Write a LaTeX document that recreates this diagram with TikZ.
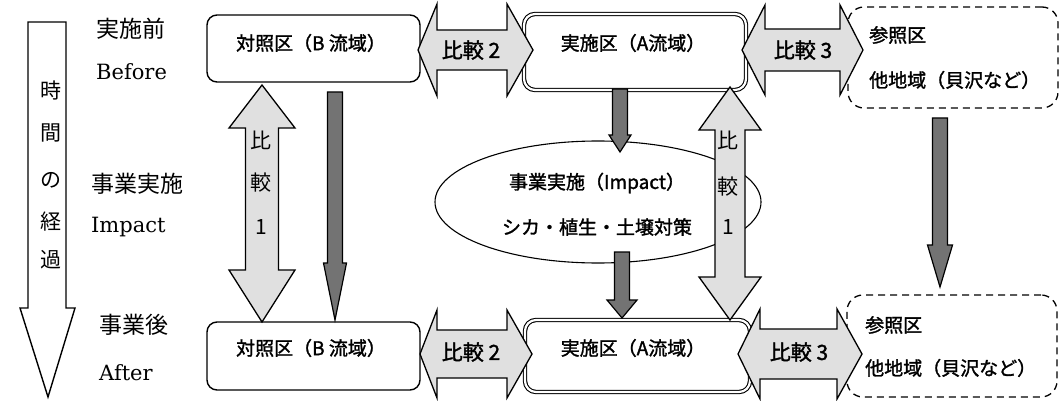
\documentclass[tikz,border=0pt]{standalone}
\usepackage{fontspec}
\setmainfont{DejaVu Serif}
\newfontfamily\jp{Noto Sans CJK JP}[FakeBold=1.5]
\newfontfamily\jpl{Noto Sans CJK JP}
\usetikzlibrary{shapes.geometric}
\definecolor{cmpfill}{gray}{0.88}
\definecolor{darkfill}{gray}{0.45}
\newcommand\darrowv[6]{% x, ytop, ybase, ytip, shafthalf, headhalf
  \draw[darkarr] (#1-#5,#2) -- (#1+#5,#2) -- (#1+#5,#3) -- (#1+#6,#3) -- (#1,#4) -- (#1-#6,#3) -- (#1-#5,#3) -- cycle;}
\newcommand\dblv[7]{% x, ytip1, ybase1, ybase2, ytip2, shafthalf, headhalf
  \draw[cmparr] (#1,#2) -- (#1+#7,#3) -- (#1+#6,#3) -- (#1+#6,#4) -- (#1+#7,#4) -- (#1,#5) -- (#1-#7,#4) -- (#1-#6,#4) -- (#1-#6,#3) -- (#1-#7,#3) -- cycle;}
\newcommand\dblh[7]{% y, xtip1, xbase1, xbase2, xtip2, shafthalf, headhalf
  \draw[cmparr] (#2,#1) -- (#3,#1-#7) -- (#3,#1-#6) -- (#4,#1-#6) -- (#4,#1-#7) -- (#5,#1) -- (#4,#1+#7) -- (#4,#1+#6) -- (#3,#1+#6) -- (#3,#1+#7) -- cycle;}
\tikzset{
  lbl/.style={font=\jpl\fontsize{23}{23}\selectfont, anchor=west, inner sep=0},
  latlbl/.style={font=\fontsize{21}{21}\selectfont, anchor=west, inner sep=0},
  boxtext/.style={font=\jp\fontsize{19}{19}\selectfont, inner sep=0},
  cmptext/.style={font=\jp\fontsize{21}{21}\selectfont, inner sep=0},
  vtext/.style={font=\jpl\fontsize{21}{21}\selectfont, inner sep=0},
  bbox/.style={draw, line width=1.4pt, rounded corners=10pt, fill=white, inner sep=0},
  abox/.style={draw, line width=1.1pt, double, double distance=2.2pt, rounded corners=11pt, fill=white, inner sep=0},
  rbox/.style={draw, line width=1.3pt, dash pattern=on 7pt off 5pt, rounded corners=16pt, fill=white, inner sep=0},
  darkarr/.style={draw, line width=1.2pt, fill=darkfill},
  cmparr/.style={draw, line width=1.3pt, fill=cmpfill},
  timearr/.style={draw, line width=1.4pt, fill=white},
}
\begin{document}
\begin{tikzpicture}[x=1pt,y=-1pt]
\useasboundingbox (0,0) rectangle (1059,401);
\fill[white] (0,0) rectangle (1059,401);
% time arrow
\draw[timearr] (28,22) -- (66,22) -- (66,308) -- (75,308) -- (48,397) -- (20,308) -- (28,308) -- cycle;
\node[vtext] (t1) at (51,90) {時};
\node[vtext] (t2) at (51,133) {間};
\node[vtext] (t3) at (51,180) {の};
\node[vtext] (t4) at (51,222) {経};
\node[vtext] (t5) at (51,260) {過};
% left labels
\node[lbl] (l1) at (96,29) {実施前};
\node[latlbl] (l2) at (96,72) {Before};
\node[lbl] (l3) at (91,184) {事業実施};
\node[latlbl] (l4) at (91,227) {Impact};
\node[lbl] (l5) at (99,325) {事業後};
\node[latlbl] (l6) at (99,373) {After};
% ellipse
\node[draw, ellipse, line width=1.1pt, minimum width=326pt, minimum height=122pt, inner sep=0] (imp) at (598,202) {};
\node[boxtext] (imp1) at (597,183) {事業実施（Impact）};
\node[boxtext] (imp2) at (597,227) {シカ・植生・土壌対策};
% boxes
\node[bbox, minimum width=213pt, minimum height=67pt] (Btop) at (313.5,48.5) {};
\node[abox, minimum width=222pt, minimum height=76pt] (Atop) at (635,52) {};
\node[rbox, minimum width=210pt, minimum height=101pt] (Rtop) at (953,57.5) {};
\node[bbox, minimum width=213pt, minimum height=68pt] (Bbot) at (313.5,356) {};
\node[abox, minimum width=225pt, minimum height=72pt] (Abot) at (637.5,356) {};
\node[rbox, minimum width=210pt, minimum height=102pt] (Rbot) at (952,346) {};
% box texts
\node[boxtext] (Btoptxt) at (311,43) {対照区（B 流域）};
\node[boxtext] (Atoptxt) at (633,43) {実施区（A流域）};
\node[boxtext, anchor=west] (Rtop1) at (869,35) {参照区};
\node[boxtext, anchor=west] (Rtop2) at (869,80) {他地域（貝沢など）};
\node[boxtext] (Bbottxt) at (311,348) {対照区（B 流域）};
\node[boxtext] (Abottxt) at (633,348) {実施区（A流域）};
\node[boxtext, anchor=west] (Rbot1) at (865,325) {参照区};
\node[boxtext, anchor=west] (Rbot2) at (865,368) {他地域（貝沢など）};
% dark arrows
\darrowv{335}{92}{263}{320}{7.5}{11.5}
\darrowv{620}{89}{135}{152}{7.5}{11}
\darrowv{622}{252}{300}{318}{7.5}{15}
\darrowv{940}{118}{245}{287}{7.5}{12.5}
% comparison arrows
\dblv{262}{85}{128}{270}{322}{16.5}{33}
\dblv{730}{87}{130}{277}{320}{15}{31}
\dblh{50}{418}{437}{507}{533}{20}{46}
\dblh{50}{742}{765}{840}{863}{21}{45}
\dblh{354}{420}{437}{507}{532}{24}{44}
\dblh{354}{738}{760}{837}{862}{25}{45}
% comparison texts
\node[cmptext] (c2t) at (471,50) {比較 2};
\node[cmptext] (c3t) at (803,50) {比較 3};
\node[cmptext] (c2b) at (471,352) {比較 2};
\node[cmptext] (c3b) at (799,352) {比較 3};
\node[vtext] (c1a) at (261,140) {比};
\node[vtext] (c1b) at (261,183) {較};
\node[vtext] (c1c) at (261,227) {1};
\node[vtext] (c1d) at (728,140) {比};
\node[vtext] (c1e) at (728,187) {較};
\node[vtext] (c1f) at (728,227) {1};
\end{tikzpicture}
\end{document}
